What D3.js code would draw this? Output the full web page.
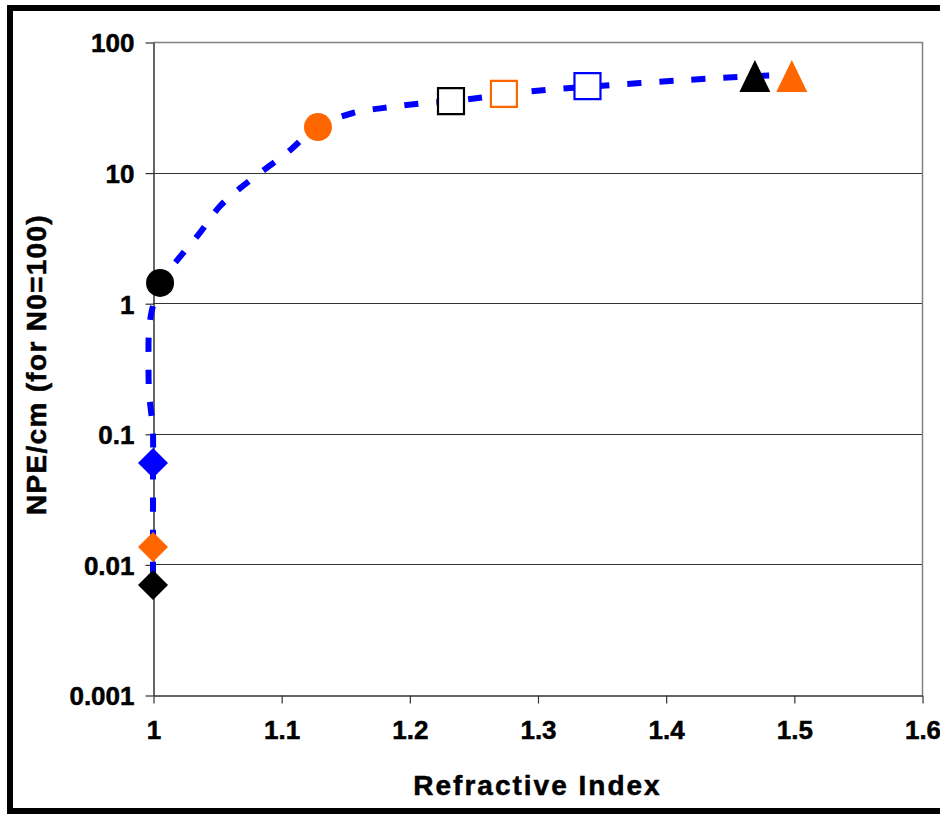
<!DOCTYPE html>
<html>
<head>
<meta charset="utf-8">
<script src="https://cdn.jsdelivr.net/npm/d3@7"></script>
<style>
  html, body { margin: 0; padding: 0; background: #fff; }
  svg { display: block; font-family: "Liberation Sans", Arial, sans-serif; }
</style>
</head>
<body>
<div id="chart"></div>
<script>
// smoothed model curve (refractive index vs photo-electrons per cm)
const curveN = [1.0, 1.0, 1.0, 0.9992, 0.9969, 0.9965, 0.9969, 0.9992, 1.0016, 1.0055,
  1.021, 1.037, 1.052, 1.068, 1.085, 1.105, 1.128, 1.156, 1.18, 1.205, 1.233,
  1.26, 1.29, 1.34, 1.4165, 1.473, 1.497];
const curveNPE = [0.0082, 0.06, 0.1, 0.128, 0.209, 0.367, 0.624, 0.887, 1.06, 1.43,
  2.26, 3.5, 5.5, 7.6, 10.2, 14.3, 22.3, 28.6, 31.3, 33.5, 35.3,
  38, 41.5, 45.5, 51.2, 55, 55.8];

// measured / computed radiator points
const pointN = [1.0, 1.0, 1.0, 1.0055, 1.1287, 1.2325, 1.2738, 1.339, 1.4696, 1.4984];
const pointNPE = [0.00695, 0.0136, 0.0597, 1.43, 22.3, 35.3, 40, 46, 54, 54];

// tick labels
const xTicks = [1, 1.1, 1.2, 1.3, 1.4, 1.5, 1.6];
const yTicks = [0.001, 0.01, 0.1, 1, 10, 100];

const xTitle = 'Refractive Index';
const yTitle = 'NPE/cm (for N0=100)';

// marker styles, one per point above
const BLUE = '#0000ff';
const ORANGE = '#ff6600';
const BLACK = '#000000';
const pointStyle = [
  { shape: 'diamond', color: BLACK, fill: true },
  { shape: 'diamond', color: ORANGE, fill: true },
  { shape: 'diamond', color: BLUE, fill: true },
  { shape: 'circle', color: BLACK, fill: true },
  { shape: 'circle', color: ORANGE, fill: true },
  { shape: 'square', color: BLACK, fill: false },
  { shape: 'square', color: ORANGE, fill: false },
  { shape: 'square', color: BLUE, fill: false },
  { shape: 'triangle', color: BLACK, fill: true },
  { shape: 'triangle', color: ORANGE, fill: true },
];

const W = 940;
const H = 814;
const PLOT_L = 153;
const PLOT_R = 922;
const PLOT_T = 42;
const PLOT_B = 695;

const svg = d3.select('#chart').append('svg')
  .attr('width', W)
  .attr('height', H);

// outer frame (right edge runs off the picture)
svg.append('rect')
  .attr('x', 10).attr('y', 8)
  .attr('width', 1000).attr('height', 803)
  .attr('fill', '#fff')
  .attr('stroke', '#000')
  .attr('stroke-width', 6);

const x = d3.scaleLinear().domain([1, 1.6]).range([PLOT_L, PLOT_R]);
const y = d3.scaleLog().domain([0.001, 100]).range([PLOT_B, PLOT_T]);

// gridlines
svg.append('g')
  .selectAll('line')
  .data(yTicks.slice(1, -1))
  .join('line')
  .attr('x1', PLOT_L).attr('x2', PLOT_R)
  .attr('y1', (d) => Math.round(y(d)) + 0.5)
  .attr('y2', (d) => Math.round(y(d)) + 0.5)
  .attr('stroke', '#333')
  .attr('stroke-width', 1);

// plot area border top/right
svg.append('path')
  .attr('d', `M${PLOT_L},${PLOT_T + 0.5}H${PLOT_R + 0.5}V${PLOT_B}`)
  .attr('fill', 'none')
  .attr('stroke', '#808080')
  .attr('stroke-width', 1.5);

// axes
const xAxis = svg.append('g')
  .attr('transform', `translate(0.5, ${PLOT_B + 0.5})`)
  .call(d3.axisBottom(x).tickValues(xTicks).tickFormat(d3.format('')).tickSize(8).tickSizeOuter(0));
const yAxis = svg.append('g')
  .attr('transform', `translate(${PLOT_L + 0.5}, 0.5)`)
  .call(d3.axisLeft(y).tickValues(yTicks).tickFormat((d) => String(d)).tickSize(8).tickSizeOuter(0));

[xAxis, yAxis].forEach(($a) => {
  $a.select('.domain').attr('stroke', '#333').attr('stroke-width', 1.5);
  $a.selectAll('.tick line').attr('stroke', '#333').attr('stroke-width', 1.2);
  $a.selectAll('.tick text')
    .attr('fill', '#000')
    .attr('stroke', '#000')
    .attr('stroke-width', 0.5)
    .style('font-size', '26px')
    .style('font-weight', 'bold')
    .style('font-family', '"Liberation Sans", Arial, sans-serif');
});
xAxis.selectAll('.tick text').attr('y', 25).attr('dy', '0.71em');
yAxis.selectAll('.tick text').attr('x', -19).attr('dy', '0.36em');

// axis titles
svg.append('text')
  .attr('x', (PLOT_L + PLOT_R) / 2)
  .attr('y', 795)
  .attr('text-anchor', 'middle')
  .attr('stroke', '#000')
  .attr('stroke-width', 0.5)
  .style('font-size', '28px')
  .style('font-weight', 'bold')
  .style('letter-spacing', '2px')
  .text(xTitle);

svg.append('text')
  .attr('transform', `translate(46, ${(PLOT_T + PLOT_B) / 2 - 4}) rotate(-90)`)
  .attr('text-anchor', 'middle')
  .attr('stroke', '#000')
  .attr('stroke-width', 0.5)
  .style('font-size', '28px')
  .style('font-weight', 'bold')
  .style('letter-spacing', '1.3px')
  .text(yTitle);

// curve
const curveData = curveN.map((n, i) => ({ n, v: curveNPE[i] }));
const line = d3.line()
  .x((d) => x(d.n))
  .y((d) => y(d.v))
  .curve(d3.curveCatmullRom.alpha(0.5));

svg.append('path')
  .datum(curveData)
  .attr('d', line)
  .attr('fill', 'none')
  .attr('stroke', BLUE)
  .attr('stroke-width', 6)
  .attr('stroke-dasharray', '14,18');

// markers
const points = pointN.map((n, i) => ({ n, v: pointNPE[i], ...pointStyle[i] }));

function markerPath(shape) {
  if (shape === 'diamond') return 'M0,-15L15,0L0,15L-15,0Z';
  if (shape === 'square') return 'M-13,-13H13V13H-13Z';
  if (shape === 'triangle') return 'M0,-17L15.5,15H-15.5Z';
  return null;
}

const $pts = svg.append('g')
  .selectAll('g')
  .data(points)
  .join('g')
  .attr('transform', (d) => `translate(${x(d.n)}, ${y(d.v)})`);

$pts.filter((d) => d.shape === 'circle')
  .append('circle')
  .attr('r', 14)
  .attr('fill', (d) => d.color);

$pts.filter((d) => d.shape !== 'circle')
  .append('path')
  .attr('d', (d) => markerPath(d.shape))
  .attr('fill', (d) => (d.fill ? d.color : '#fff'))
  .attr('stroke', (d) => d.color)
  .attr('stroke-width', (d) => (d.fill ? 0 : 2.2));
</script>
</body>
</html>
